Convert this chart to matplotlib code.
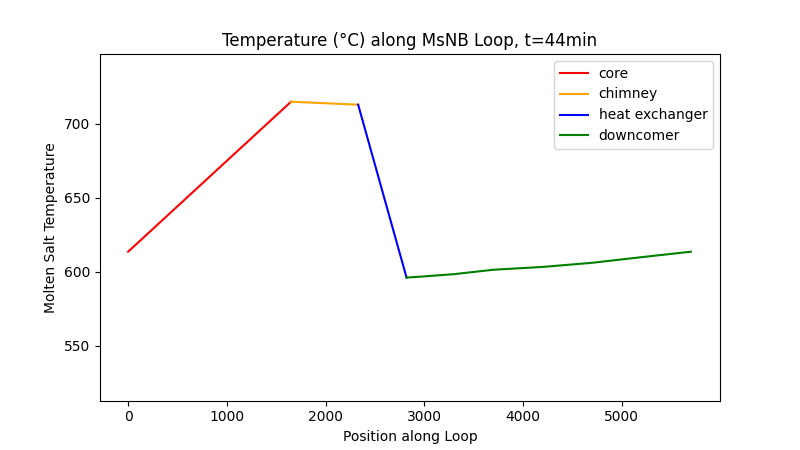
import matplotlib
matplotlib.use("Agg")
import matplotlib.pyplot as plt

core_x = [0, 1650]
core_y = [613.5, 715]
chim_x = [1650, 2330]
chim_y = [715, 713]
hx_x = [2330, 2820]
hx_y = [713, 596]
dc_x = [2820, 3000, 3300, 3700, 4200, 4700, 5200, 5700]
dc_y = [596, 596.8, 598.3, 601.3, 603.2, 606, 609.8, 613.5]

fig, ax = plt.subplots(figsize=(8, 4.5), dpi=100)
ax.plot(core_x, core_y, color="red", label="core")
ax.plot(chim_x, chim_y, color="orange", label="chimney")
ax.plot(hx_x, hx_y, color="blue", label="heat exchanger")
ax.plot(dc_x, dc_y, color="green", label="downcomer")
ax.set_xlim(-285, 5995)
ax.set_ylim(512.8, 747.3)
ax.set_xlabel("Position along Loop")
ax.set_ylabel("Molten Salt Temperature")
ax.set_title("Temperature (°C) along MsNB Loop, t=44min")
ax.legend(loc="upper right")
fig.savefig("out.png")
